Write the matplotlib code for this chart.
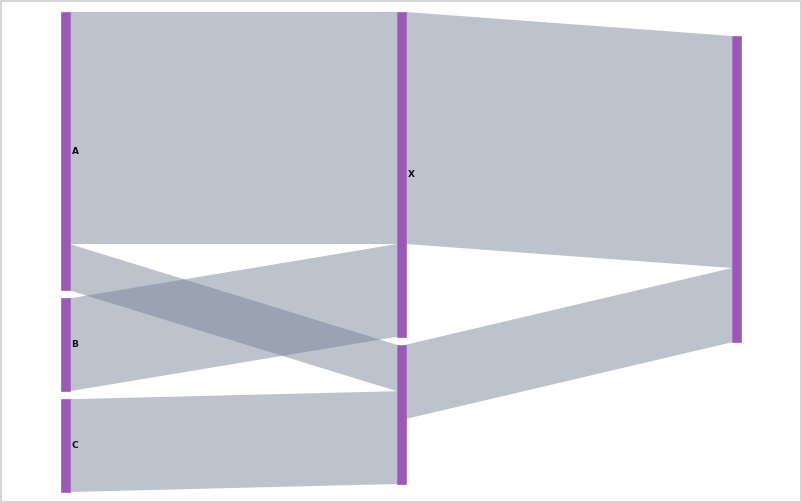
import numpy as np
import matplotlib
matplotlib.use("Agg")
import matplotlib.pyplot as plt
from matplotlib.patches import Rectangle, Polygon

# sankey data
node_names = ["A", "B", "C", "X", "Y", "Z"]
node_labels = ["A", "B", "C", "X", "", ""]
node_columns = [0, 0, 0, 1, 1, 2]
link_sources = ["A", "A", "B", "C", "X", "Y"]
link_targets = ["X", "Y", "X", "Y", "Z", "Z"]
link_values = [5, 1, 2, 2, 5, 1.6]

W, H = 802, 503
col_x = [61, 397, 732]
node_w = 8.5
top = 12
gap = 8
unit = 46.4
col_offset = {0: 0, 1: 0, 2: 24}

# node sizes = max(in, out)
n_in = {n: 0.0 for n in node_names}
n_out = {n: 0.0 for n in node_names}
for s, t, v in zip(link_sources, link_targets, link_values):
    n_out[s] += v
    n_in[t] += v
size = {n: max(n_in[n], n_out[n]) for n in node_names}

# stack nodes in each column
node_y = {}
cursor = {}
for n, c in zip(node_names, node_columns):
    y = cursor.get(c, top + col_offset[c])
    node_y[n] = y
    cursor[c] = y + size[n] * unit + gap

fig = plt.figure(figsize=(W / 100, H / 100), dpi=100)
ax = fig.add_axes([0, 0, 1, 1])
ax.set_xlim(0, W)
ax.set_ylim(H, 0)
ax.axis("off")

# links
out_pos = dict(node_y)
in_pos = dict(node_y)
col_of = dict(zip(node_names, node_columns))
for s, t, v in zip(link_sources, link_targets, link_values):
    h = v * unit
    x0 = col_x[col_of[s]] + node_w
    x1 = col_x[col_of[t]]
    y0 = out_pos[s]
    y1 = in_pos[t]
    out_pos[s] += h
    in_pos[t] += h
    ax.add_patch(Polygon([(x0, y0), (x1, y1), (x1, y1 + h), (x0, y0 + h)],
                         closed=True, facecolor="#738094", alpha=0.47,
                         edgecolor="none"))

# nodes
for n, lab in zip(node_names, node_labels):
    x = col_x[col_of[n]]
    y = node_y[n]
    h = size[n] * unit
    ax.add_patch(Rectangle((x, y), node_w, h, facecolor="#9b59b6",
                           edgecolor="#a66bbf", linewidth=0.6))
    if lab:
        ax.text(x + node_w + 2, y + h / 2, lab, fontsize=6.5,
                fontweight="bold", va="center", ha="left", color="#111111")

# border
ax.add_patch(Rectangle((0.5, 0.5), W - 1.5, H - 1.5, fill=False,
                       edgecolor="#cccccc", linewidth=1.2))

fig.savefig("out.png", dpi=100)
